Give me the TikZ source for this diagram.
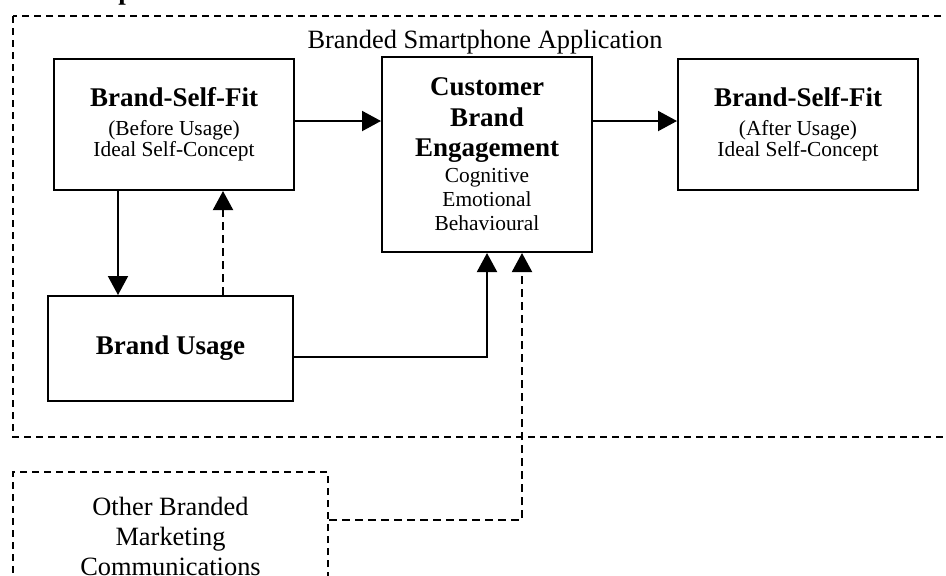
\documentclass[tikz,border=0pt]{standalone}
\usepackage{fontspec}
\setmainfont{Liberation Serif}
\usetikzlibrary{arrows.meta}
\newcommand{\headfont}{\fontsize{13.5}{15}\selectfont\bfseries}
\newcommand{\subfont}{\fontsize{10.7}{12}\selectfont}
\newcommand{\labfont}{\fontsize{13.2}{15}\selectfont}
\begin{document}
\begin{tikzpicture}[x=0.5pt,y=-0.5pt,
  box/.style={draw,line width=1pt,align=center,inner sep=0pt},
  dbox/.style={draw,line width=1pt,dash pattern=on 3.5pt off 2.5pt},
  arr/.style={line width=1pt,-{Triangle[length=9.5pt,width=10pt]}},
  darr/.style={arr,dash pattern=on 4pt off 2.5pt}]
  \useasboundingbox (0,0) rectangle (946,575);
  \node[anchor=base,font=\headfont] (title) at (126,-1) {p};
  % outer frame
  \draw[dbox] (13,16) rectangle (980,437);
  \node[anchor=base,font=\labfont] (app) at (485,48) {Branded Smartphone Application};
  % boxes
  \node[box,minimum width=120pt,minimum height=65.5pt] (before) at (174,124.5)
    {{\headfont Brand-Self-Fit}\\[2.5pt]{\subfont (Before Usage)}\\[-1.5pt]{\subfont Ideal Self-Concept}};
  \node[box,minimum width=105pt,minimum height=97.5pt] (cbe) at (487,154.5)
    {{\headfont Customer}\\[3.5pt]{\headfont Brand}\\[3pt]{\headfont Engagement}\\[1pt]{\subfont Cognitive}\\{\subfont Emotional}\\{\subfont Behavioural}};
  \node[box,minimum width=120pt,minimum height=65.5pt] (after) at (798,124.5)
    {{\headfont Brand-Self-Fit}\\[2.5pt]{\subfont (After Usage)}\\[-1.5pt]{\subfont Ideal Self-Concept}};
  \node[box,minimum width=122.5pt,minimum height=52.5pt,font=\headfont] (usage) at (170.5,348.5) {Brand Usage};
  \node[dbox,minimum width=157.5pt,minimum height=64pt,align=center,font=\labfont,inner sep=0pt] (other) at (170.5,536)
    {Other Branded\\Marketing\\Communications};
  % arrows
  \draw[arr] ([yshift=1.75pt]before.east) -- ([yshift=1.75pt]before.east -| cbe.west);
  \draw[arr] ([yshift=1.75pt]after.west -| cbe.east) -- ([yshift=1.75pt]after.west);
  \draw[arr] ([xshift=-28pt]before.south) -- ([xshift=-28pt]before.south |- usage.north);
  \draw[darr] ([xshift=24.5pt]before.south |- usage.north) -- ([xshift=24.5pt]before.south);
  \draw[arr] ([yshift=-4.25pt]usage.east) -| (cbe.south);
  \draw[darr] ([yshift=8pt]other.east) -| ([xshift=17.5pt]cbe.south);
\end{tikzpicture}
\end{document}
